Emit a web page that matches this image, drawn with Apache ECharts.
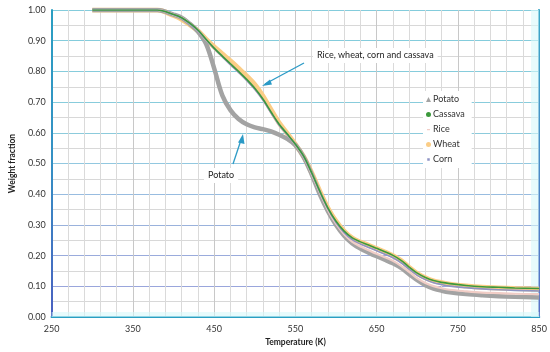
<!DOCTYPE html>
<html>
<head>
<meta charset="utf-8">
<script src="https://cdn.jsdelivr.net/npm/echarts@6/dist/echarts.min.js"></script>
<style>html,body{margin:0;padding:0;background:#fff}#c{width:550px;height:352px}</style>
</head>
<body>
<div id="c"></div>
<script>
const temps = [300,340,380,400,410,420,430,440,450,460,470,480,490,500,510,520,530,540,550,560,570,580,590,600,610,620,630,640,650,660,670,680,690,700,710,720,730,740,760,780,800,820,850];
const potato = [1,1,1,0.985,0.975,0.955,0.93,0.89,0.81,0.722,0.674,0.645,0.628,0.618,0.612,0.605,0.594,0.58,0.56,0.522,0.465,0.40,0.345,0.30,0.265,0.24,0.223,0.21,0.198,0.187,0.175,0.16,0.14,0.12,0.104,0.093,0.086,0.081,0.075,0.071,0.068,0.066,0.064];
const cassava = [1,1,1,0.985,0.975,0.957,0.935,0.905,0.876,0.85,0.825,0.80,0.774,0.745,0.71,0.668,0.628,0.596,0.563,0.525,0.47,0.41,0.355,0.312,0.28,0.258,0.245,0.235,0.224,0.213,0.201,0.185,0.163,0.143,0.129,0.119,0.113,0.109,0.103,0.099,0.097,0.095,0.093];
const rice = [1,1,1,0.985,0.975,0.956,0.934,0.904,0.875,0.849,0.823,0.798,0.772,0.743,0.708,0.666,0.626,0.595,0.562,0.523,0.467,0.406,0.349,0.304,0.27,0.245,0.23,0.218,0.206,0.195,0.183,0.167,0.147,0.126,0.111,0.101,0.094,0.089,0.084,0.08,0.078,0.076,0.075];
const wheat = [1,1,1,0.982,0.97,0.952,0.932,0.905,0.88,0.857,0.834,0.81,0.785,0.757,0.72,0.675,0.632,0.598,0.562,0.523,0.47,0.41,0.355,0.312,0.28,0.257,0.244,0.234,0.223,0.212,0.2,0.184,0.162,0.142,0.128,0.118,0.112,0.107,0.101,0.097,0.095,0.093,0.091];
const corn = [1,1,1,0.985,0.974,0.955,0.933,0.903,0.874,0.848,0.822,0.797,0.771,0.742,0.707,0.665,0.625,0.594,0.562,0.523,0.468,0.408,0.352,0.308,0.275,0.252,0.238,0.227,0.216,0.205,0.193,0.177,0.156,0.136,0.122,0.112,0.106,0.101,0.096,0.092,0.089,0.087,0.085];
const seriesNames = ['Potato','Cassava','Rice','Wheat','Corn'];
const xTicks = {min:250, max:850, step:100};
const yTicks = {min:0, max:1, step:0.1};

const FONT = 'Lato, "Noto Sans", sans-serif';
const pair = arr => temps.map((t,i)=>[t,arr[i]]);
const chart = echarts.init(document.getElementById('c'), null, {renderer:'canvas'});
const yMajorColors = ['#9aa3dc','#9aa6dc','#9aabdc','#9ab2dc','#98bce0','#92c8e0','#8ccbdc','#88ccdc','#86ccdc','#84ccdc','#84ccdc'];
function lineSeries(name, data, color, width, z){
  return {name, type:'line', data:pair(data), smooth:0.35, showSymbol:false, symbolSize:5,
    color, lineStyle:{color, width}, z, silent:true};
}
const option = {
  animation:false,
  textStyle:{fontFamily:FONT},
  grid:{left:38, top:10, width:502, height:309, show:false},
  legend:{
    orient:'vertical', left:423, top:91, itemWidth:5, itemHeight:5, itemGap:4,
    backgroundColor:'#fff', padding:[3,7,3,3],
    textStyle:{fontSize:9, color:'#333', fontFamily:FONT, lineHeight:11, padding:[0,0,0,-3]},
    data:[
      {name:'Potato',icon:'triangle'},
      {name:'Cassava',icon:'circle'},
      {name:'Rice',icon:'path://M0,0M10,10M2,4L8,4L8,6.5L2,6.5Z'},
      {name:'Wheat',icon:'circle'},
      {name:'Corn',icon:'path://M0,0M10,10M2.5,2.5L7.5,2.5L7.5,7.5L2.5,7.5Z'}
    ]
  },
  xAxis:[{
    type:'value', min:xTicks.min, max:xTicks.max, interval:xTicks.step,
    axisLine:{show:true, onZero:false, lineStyle:{color:'#4a5fc0', width:2}},
    axisTick:{show:false},
    axisLabel:{fontSize:9, color:'#333', margin:7, fontFamily:FONT},
    splitLine:{show:true, lineStyle:{color:'#c8c8c8', width:1}},
    minorTick:{show:true, splitNumber:5, length:0, lineStyle:{color:'rgba(0,0,0,0)'}},
    minorSplitLine:{show:true, lineStyle:{color:'#dadada', width:1}},
    name:'Temperature (K)', nameLocation:'middle', nameGap:19,
    nameTextStyle:{fontWeight:'bold', fontSize:8.5, color:'#222', fontFamily:FONT}
  },{
    type:'value', position:'top', min:xTicks.min, max:xTicks.max, interval:xTicks.step,
    axisLine:{show:true, lineStyle:{color:'#2a9fc2', width:2}},
    axisTick:{show:false}, axisLabel:{show:false}, splitLine:{show:false}
  }],
  yAxis:[{
    type:'value', min:yTicks.min, max:yTicks.max, interval:yTicks.step,
    axisLine:{show:true, onZero:false, lineStyle:{width:2, color:{type:'linear',x:0,y:0,x2:0,y2:1,colorStops:[{offset:0,color:'#2a9fc2'},{offset:0.5,color:'#3590c4'},{offset:1,color:'#4a5fc0'}]}}},
    axisTick:{show:false},
    axisLabel:{fontSize:9, color:'#333', margin:6, fontFamily:FONT, formatter:v=>v.toFixed(2)},
    splitLine:{show:true, lineStyle:{color:yMajorColors, width:1}},
    minorTick:{show:true, splitNumber:2, length:0, lineStyle:{color:'rgba(0,0,0,0)'}},
    minorSplitLine:{show:true, lineStyle:{color:'#d8d8d8', width:1}},
    name:'Weight fraction', nameLocation:'middle', nameGap:31, nameRotate:90,
    nameTextStyle:{fontWeight:'bold', fontSize:8.5, color:'#222', fontFamily:FONT}
  },{
    type:'value', position:'right', min:yTicks.min, max:yTicks.max, interval:yTicks.step,
    axisLine:{show:true, lineStyle:{width:2, color:{type:'linear',x:0,y:0,x2:0,y2:1,colorStops:[{offset:0,color:'#2a9fc2'},{offset:1,color:'#4a5fc0'}]}}},
    axisTick:{show:false}, axisLabel:{show:false}, splitLine:{show:false}
  }],
  series:[
    Object.assign(lineSeries('Wheat', wheat, '#fbcd86', 5, 2), {
      markArea:{silent:true, itemStyle:{color:'rgba(215,248,250,0.6)'}, data:[
        [{yAxis:0},{yAxis:0.017}],
        [{xAxis:840},{xAxis:850}]
      ]}
    }),
    lineSeries('Potato', potato, '#a3a3a3', 4.5, 3),
    lineSeries('Rice', rice, '#f1cdc6', 2.2, 4),
    lineSeries('Corn', corn, '#8e93c4', 1.6, 5),
    lineSeries('Cassava', cassava, '#3c993c', 1.6, 6)
  ],
  graphic:[
    {type:'line', shape:{x1:304,y1:63,x2:265,y2:84}, style:{stroke:'#2b9ac6', lineWidth:1.3}, z:20},
    {type:'polygon', shape:{points:[[262,86],[270,79.5],[272,84.5]]}, style:{fill:'#2b9ac6'}, z:20},
    {type:'text', left:313, top:48, z:21, style:{text:'Rice, wheat, corn and cassava', fontSize:9, fill:'#222', fontFamily:FONT, backgroundColor:'#fff', padding:[3,4]}},
    {type:'line', shape:{x1:233,y1:164,x2:241,y2:140}, style:{stroke:'#2b9ac6', lineWidth:1.3}, z:20},
    {type:'polygon', shape:{points:[[243,134],[238,142.5],[244.5,144]]}, style:{fill:'#2b9ac6'}, z:20},
    {type:'text', left:204, top:168, z:21, style:{text:'Potato', fontSize:9, fill:'#222', fontFamily:FONT, backgroundColor:'#fff', padding:[3,4]}}
  ]
};
chart.setOption(option);
</script>
</body>
</html>
